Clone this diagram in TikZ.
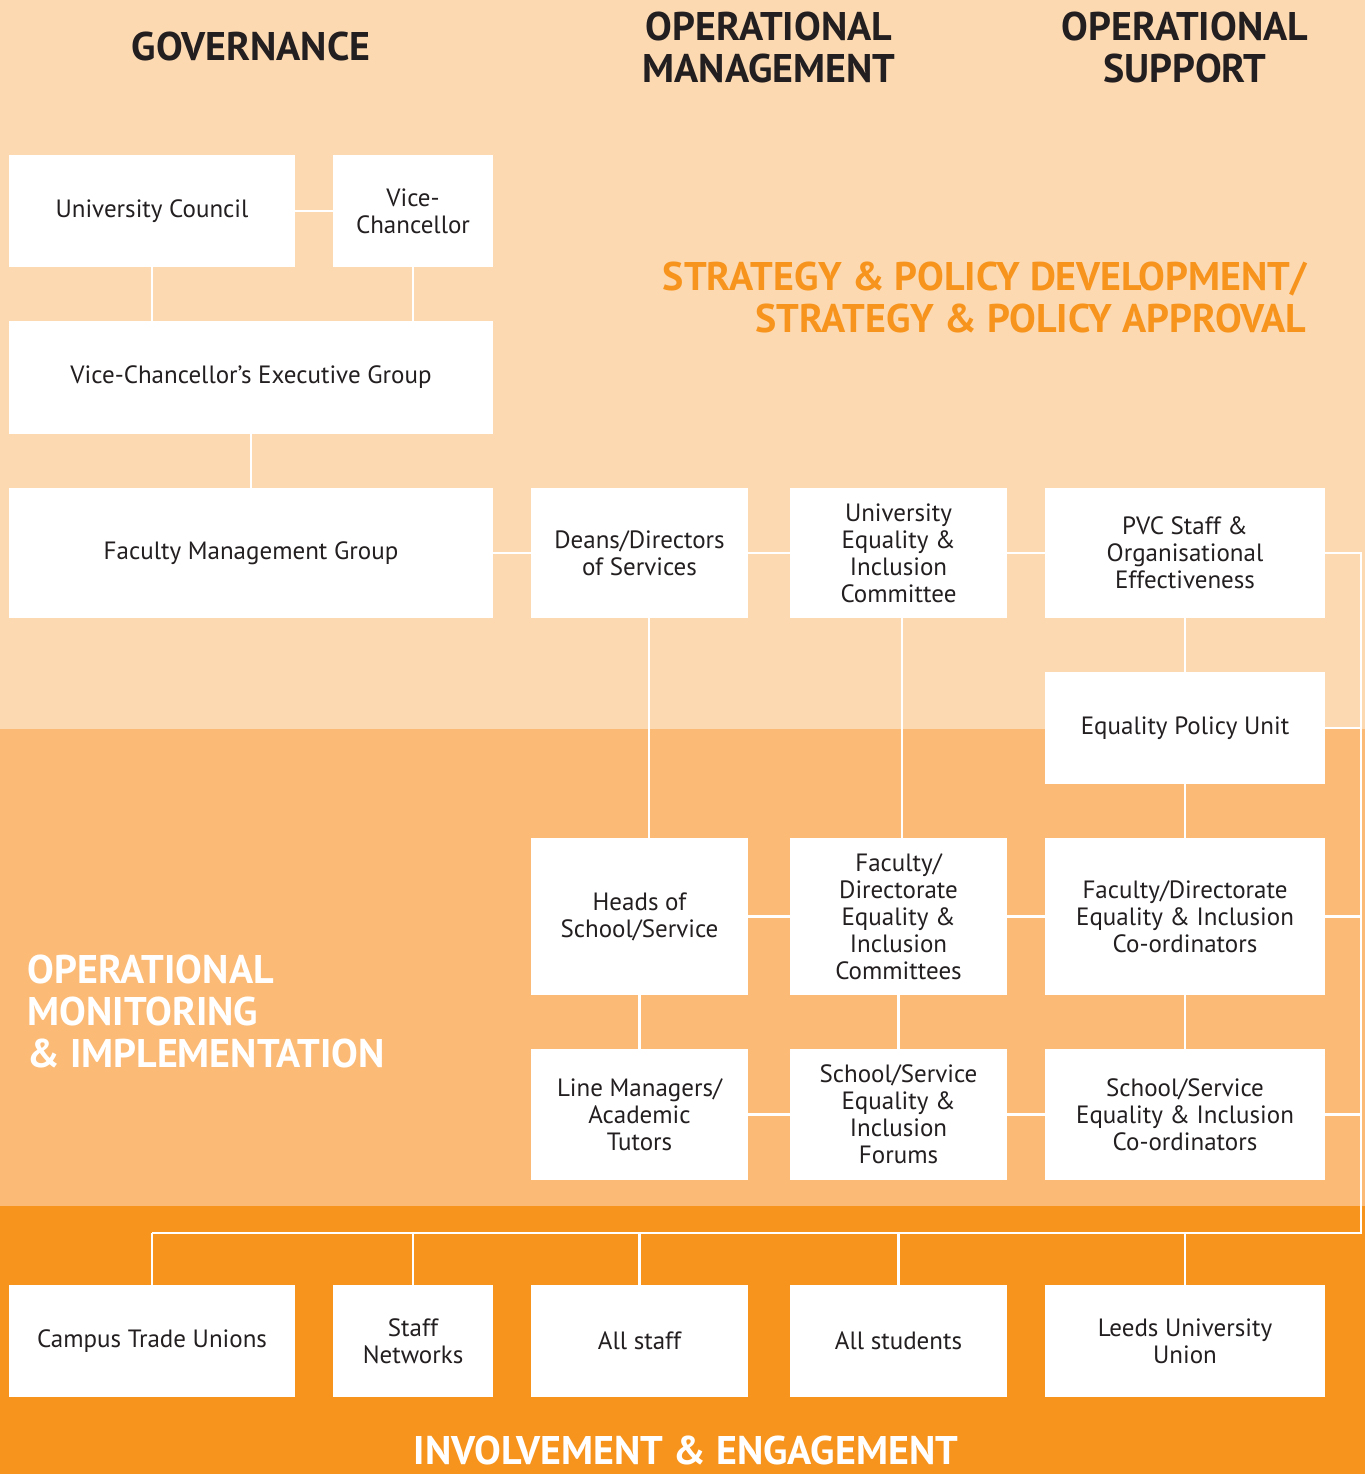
\documentclass[tikz,border=0pt]{standalone}
\usepackage{fontspec}
\setmainfont{PT Sans}
\usepackage{tikz}
\definecolor{bandTop}{HTML}{FDD9B1}
\definecolor{bandMid}{HTML}{FBBB77}
\definecolor{bandLow}{HTML}{F7941E}
\definecolor{boxText}{HTML}{231F20}

\begin{document}
\begin{tikzpicture}
[x=1pt,y=-1pt,
 boxDecorate/.style={shape=rectangle,fill=white,inner sep=0pt,align=center,text=boxText,font=\fontsize{25}{27}\selectfont},%
 lineDecorate/.style={-,draw=white,line width=2.5pt},%
 headDecorate/.style={font=\fontsize{40}{42}\selectfont\bfseries,text=boxText,align=center}]
%% coloured bands
\fill[bandTop] (0,0) rectangle (1365,729);
\fill[bandMid] (0,729) rectangle (1365,1206);
\fill[bandLow] (0,1206) rectangle (1365,1474);
\useasboundingbox (0,0) rectangle (1365,1474);
%% headings
\node (gov) at (251,47) [headDecorate] {GOVERNANCE};
\node (opman) at (769,48) [headDecorate] {OPERATIONAL\\MANAGEMENT};
\node (opsup) at (1185,48) [headDecorate] {OPERATIONAL\\SUPPORT};
\node (strat) at (1310,297) [headDecorate,anchor=east,align=right,text=bandLow] {STRATEGY \& POLICY DEVELOPMENT/\\STRATEGY \& POLICY APPROVAL};
\node (opmon) at (24,1011) [headDecorate,anchor=west,align=left,text=white] {OPERATIONAL\\MONITORING\\\& IMPLEMENTATION};
\node (invol) at (686,1464) [headDecorate,anchor=base,inner sep=0pt,text=white] {INVOLVEMENT \& ENGAGEMENT};
%% nodes or boxes
\foreach \nodename/\x/\y/\w/\h/\label in {
  uc/152/211/286/112/{University Council},
  vc/413/211/160/112/{Vice-\\Chancellor},
  vceg/251/377.5/484/113/{Vice-Chancellor’s Executive Group},
  fmg/251/553/484/130/{Faculty Management Group},
  deans/639.5/553/217/130/{Deans/Directors\\of Services},
  ueic/898.5/553/217/130/{University\\Equality \&\\Inclusion\\Committee},
  pvc/1185/553/280/130/{PVC Staff \&\\Organisational\\Effectiveness},
  epu/1185/728/280/112/{Equality Policy Unit},
  heads/639.5/916.5/217/157/{Heads of\\School/Service},
  fdeic/898.5/916.5/217/157/{Faculty/\\Directorate\\Equality \&\\Inclusion\\Committees},
  fdc/1185/916.5/280/157/{Faculty/Directorate\\Equality \& Inclusion\\Co-ordinators},
  lm/639.5/1114.5/217/131/{Line Managers/\\Academic\\Tutors},
  ssf/898.5/1114.5/217/131/{School/Service\\Equality \&\\Inclusion\\Forums},
  ssc/1185/1114.5/280/131/{School/Service\\Equality \& Inclusion\\Co-ordinators},
  ctu/152/1341/286/112/{Campus Trade Unions},
  sn/413/1341/160/112/{Staff\\Networks},
  alls/639.5/1341/217/112/{All staff},
  allst/898.5/1341/217/112/{All students},
  luu/1185/1341/280/112/{Leeds University\\Union}}
{
  \node (\nodename) at (\x,\y) [boxDecorate,minimum width=\w,minimum height=\h] {\label};
}
%% edges or lines
\path
\foreach \startnode/\endnode in {uc/vc, vceg/fmg, fmg/deans, deans/ueic, ueic/pvc,
  pvc/epu, epu/fdc, heads/fdeic, fdeic/fdc,
  heads/lm, fdeic/ssf, fdc/ssc, lm/ssf, ssf/ssc}
{
  (\startnode) edge[lineDecorate] (\endnode)
};
\draw[lineDecorate] ([xshift=9.5]deans.south) -- ([xshift=9.5]heads.north);
\draw[lineDecorate] ([xshift=3.5]ueic.south) -- ([xshift=3.5]fdeic.north);
\draw[lineDecorate] (uc.south) -- (uc.south |- vceg.north);
\draw[lineDecorate] (vc.south) -- (vc.south |- vceg.north);
%% side bus to the bottom row
\coordinate (busT) at (1361,553);
\coordinate (busB) at (1361,1233);
\draw[lineDecorate] (pvc.east) -- (busT) -- (busB) -- (busB -| ctu.north);
\foreach \nodename in {epu, fdc, ssc}
{
  \draw[lineDecorate] (\nodename.east) -- (\nodename.east -| busT);
}
\foreach \nodename in {ctu, sn, alls, allst, luu}
{
  \draw[lineDecorate] (\nodename.north |- busB) -- (\nodename.north);
}
\end{tikzpicture}
\end{document}
